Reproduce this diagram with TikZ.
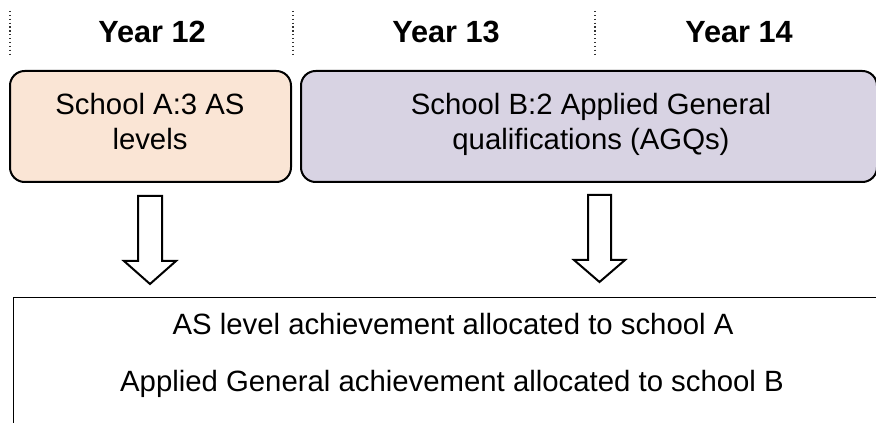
\documentclass[tikz,border=0pt]{standalone}
\usepackage{fontspec}
\setmainfont{Liberation Sans}
\begin{document}
\begin{tikzpicture}[x=0.75pt,y=-0.75pt,
  yearlbl/.style={font=\fontsize{23}{27}\selectfont\bfseries, anchor=base, inner sep=0pt},
  bodytxt/.style={font=\fontsize{22}{27}\selectfont, anchor=base, inner sep=0pt},
  divider/.style={line width=0.9pt, dotted, black!80},
  schoolbox/.style={draw=black, line width=1.5pt, rounded corners=11pt, inner sep=0pt},
  blockarrow/.style={draw=black, line width=1.5pt, fill=white, line join=miter},
]
\useasboundingbox (0,0) rectangle (876,423);
\clip (0,0) rectangle (876,423);
\definecolor{peach}{RGB}{250,229,213}
\definecolor{lilac}{RGB}{216,211,227}

% dividers
\foreach \x/\n in {10/d1,293/d2,595/d3}{
  \coordinate (\n t) at (\x,11);
  \coordinate (\n b) at (\x,55);
  \draw[divider] (\n t) -- (\n b);
}

% year labels
\node[yearlbl] (y12) at (152,43) {Year 12};
\node[yearlbl] (y13) at (446,43) {Year 13};
\node[yearlbl] (y14) at (739,43) {Year 14};

% school boxes
\node[schoolbox, fill=peach, minimum width=281*0.75pt, minimum height=111*0.75pt] (A) at (150.5,126.5) {};
\node[schoolbox, fill=lilac, minimum width=576*0.75pt, minimum height=111*0.75pt] (B) at (589,126.5) {};
\node[bodytxt] (A1) at (150,115) {School A:3 AS};
\node[bodytxt] (A2) at (150,150) {levels};
\node[bodytxt] (B1) at (591,115) {School B:2 Applied General};
\node[bodytxt] (B2) at (591,150) {qualifications (AGQs)};

% bottom result box
\node[draw=black, line width=1.1pt, minimum width=890*0.75pt, minimum height=160*0.75pt, inner sep=0pt, anchor=north west] (R) at (13,297) {};
\node[bodytxt] (R1) at (453,335) {AS level achievement allocated to school A};
\node[bodytxt] (R2) at (452,392) {Applied General achievement allocated to school B};

% block arrows
\coordinate (arrA) at (150,196);
\coordinate (arrB) at (599.5,195);
\draw[blockarrow] (arrA) ++(-12,0) -- ++(24,0) -- ++(0,65) -- ++(14,0) -- ++(-26,23) -- ++(-26,-23) -- ++(14,0) -- cycle;
\draw[blockarrow] (arrB) ++(-11.5,0) -- ++(23,0) -- ++(0,65) -- ++(14,0) -- ++(-25.5,22) -- ++(-25.5,-22) -- ++(14,0) -- cycle;
\end{tikzpicture}
\end{document}
